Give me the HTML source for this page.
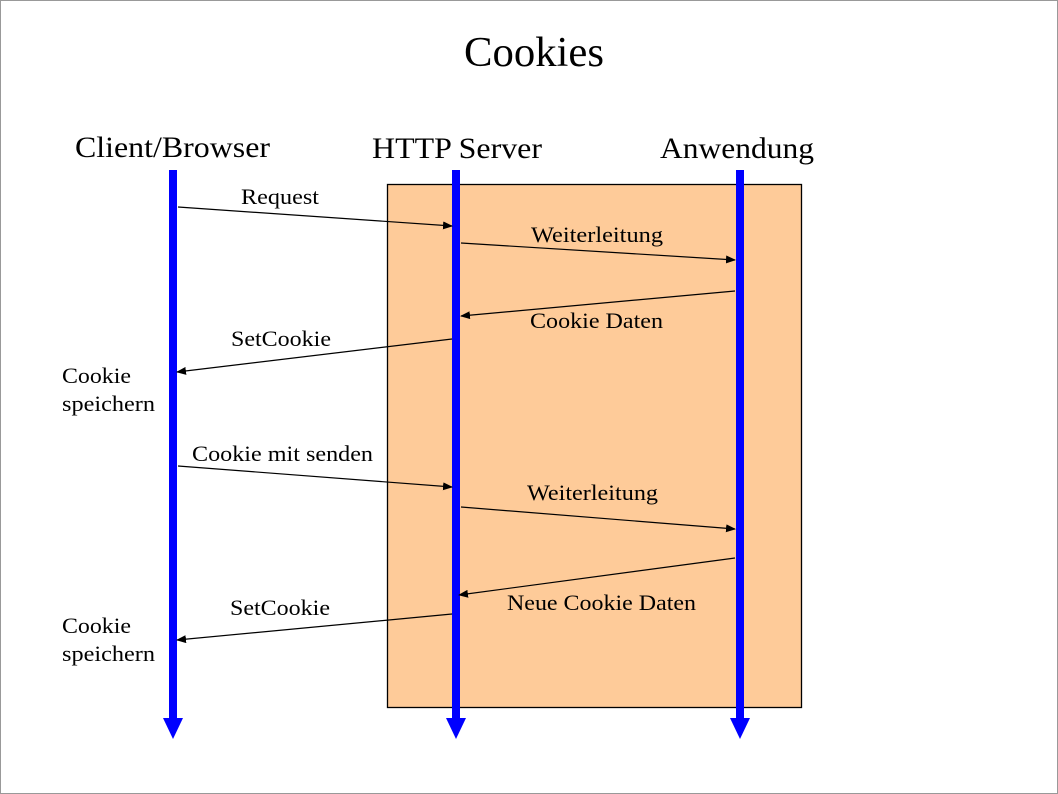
<!DOCTYPE html>
<html><head><style>
html,body{margin:0;padding:0;background:#fff;}
svg{display:block;}
text{font-family:"Liberation Serif",serif;fill:#000;}
</style></head><body>
<svg width="1058" height="794" viewBox="0 0 1058 794" xmlns="http://www.w3.org/2000/svg">
<defs>
<marker id="a" markerWidth="10" markerHeight="8" refX="9" refY="4" orient="auto" markerUnits="userSpaceOnUse">
<path d="M0,0 L10,4 L0,8 z" fill="#000"/></marker>
</defs>
<rect x="0.5" y="0.5" width="1057" height="793" fill="#fff" stroke="#999"/>
<text x="464" y="66" font-size="42" textLength="140" lengthAdjust="spacingAndGlyphs">Cookies</text>
<text x="75" y="157" font-size="30" textLength="195" lengthAdjust="spacingAndGlyphs">Client/Browser</text>
<text x="372" y="158" font-size="30" textLength="170" lengthAdjust="spacingAndGlyphs">HTTP Server</text>
<text x="660" y="158" font-size="30" textLength="154" lengthAdjust="spacingAndGlyphs">Anwendung</text>
<rect x="387.5" y="184.5" width="414" height="523" fill="#fecb99" stroke="#000" stroke-width="1.3"/>
<g fill="#0000ff">
<rect x="169" y="170" width="8" height="550"/><path d="M163,718 L183,718 L173,739 z"/>
<rect x="452" y="170" width="8" height="550"/><path d="M446,718 L466,718 L456,739 z"/>
<rect x="736" y="170" width="8" height="550"/><path d="M730,718 L750,718 L740,739 z"/>
</g>
<g stroke="#000" stroke-width="1.2" marker-end="url(#a)">
<line x1="178" y1="207" x2="452" y2="226"/>
<line x1="461" y1="243" x2="735" y2="260"/>
<line x1="735" y1="291" x2="461" y2="316"/>
<line x1="452" y1="339" x2="177" y2="372"/>
<line x1="178" y1="466" x2="452" y2="487"/>
<line x1="461" y1="507" x2="735" y2="529"/>
<line x1="735" y1="558" x2="459" y2="595"/>
<line x1="452" y1="614" x2="177" y2="640"/>
</g>
<g font-size="22" lengthAdjust="spacingAndGlyphs">
<text x="241" y="204" textLength="78" lengthAdjust="spacingAndGlyphs">Request</text>
<text x="531" y="242" textLength="132" lengthAdjust="spacingAndGlyphs">Weiterleitung</text>
<text x="530" y="328" textLength="133" lengthAdjust="spacingAndGlyphs">Cookie Daten</text>
<text x="231" y="346" textLength="100" lengthAdjust="spacingAndGlyphs">SetCookie</text>
<text x="192" y="461" textLength="181" lengthAdjust="spacingAndGlyphs">Cookie mit senden</text>
<text x="527" y="500" textLength="131" lengthAdjust="spacingAndGlyphs">Weiterleitung</text>
<text x="507" y="610" textLength="189" lengthAdjust="spacingAndGlyphs">Neue Cookie Daten</text>
<text x="230" y="615" textLength="100" lengthAdjust="spacingAndGlyphs">SetCookie</text>
<text x="62" y="383" textLength="69" lengthAdjust="spacingAndGlyphs">Cookie</text>
<text x="62" y="411" textLength="93" lengthAdjust="spacingAndGlyphs">speichern</text>
<text x="62" y="633" textLength="69" lengthAdjust="spacingAndGlyphs">Cookie</text>
<text x="62" y="661" textLength="93" lengthAdjust="spacingAndGlyphs">speichern</text>
</g>
</svg>
</body></html>
